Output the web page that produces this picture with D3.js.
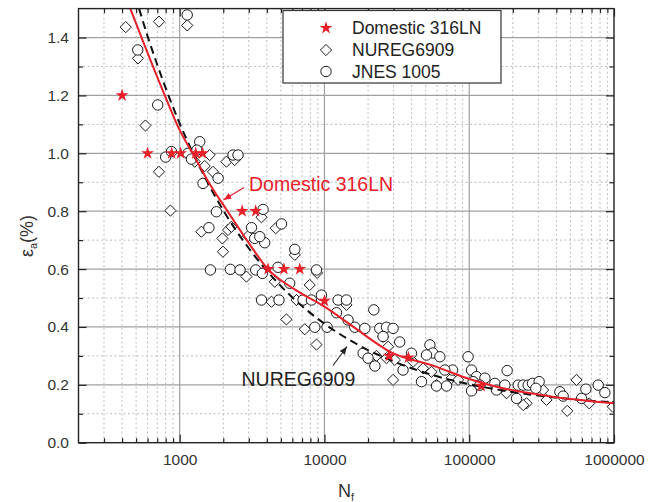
<!DOCTYPE html>
<html><head><meta charset="utf-8">
<script src="https://cdn.jsdelivr.net/npm/d3@7"></script>
<style>body{margin:0;background:#fff}svg{display:block}</style>
</head><body>
<svg id="chart" width="659" height="502"></svg>
<script>
// ---------- data ----------
const xTickValues = [1000, 10000, 100000, 1000000];
const xTickLabels = ["1000", "10000", "100000", "1000000"];
const yTickValues = [0, 0.2, 0.4, 0.6, 0.8, 1.0, 1.2, 1.4];
const yTickLabels = ["0.0", "0.2", "0.4", "0.6", "0.8", "1.0", "1.2", "1.4"];
const seriesNames = ["Domestic 316LN", "NUREG6909", "JNES 1005"];

// Domestic 316LN (stars)
const domesticN = [400, 600, 880, 1015, 1290, 1440, 2700, 3350, 4080, 5250, 6750, 10000, 28000, 38000, 121000];
const domesticE = [1.2, 1.0, 1.0, 1.0, 1.0, 1.0, 0.8, 0.8, 0.6, 0.6, 0.6, 0.49, 0.30, 0.294, 0.196];

// NUREG6909 (diamonds)
const nuregN = [424, 719, 1127, 515, 580, 719, 863, 1270, 1611, 1489, 1698, 2102, 2399, 1412, 1972, 2157, 2276, 2965,
  1991, 3673, 4605, 6237, 4540, 7906, 2890, 8892, 6412, 4305, 5458, 7311, 8810, 14190, 25410, 22860, 26810, 29790,
  27540, 30630, 40950, 48000, 54830, 59400, 75500, 83800, 181100, 249000, 342000, 475000, 551000, 674000, 982000,
  236000, 324000];
const nuregE = [1.436, 1.455, 1.442, 1.328, 1.096, 0.936, 0.802, 0.971, 0.994, 0.956, 0.936, 0.971, 0.977, 0.729, 0.706,
  0.735, 0.746, 0.714, 0.660, 0.779, 0.741, 0.649, 0.556, 0.545, 0.574, 0.587, 0.493, 0.487, 0.426, 0.392, 0.339,
  0.476, 0.366, 0.300, 0.292, 0.217, 0.332, 0.286, 0.280, 0.257, 0.245, 0.199, 0.223, 0.217, 0.171, 0.136, 0.148,
  0.110, 0.217, 0.136, 0.124, 0.130, 0.182];

// JNES 1005 (circles)
const jnesN = [1127, 513, 705, 800, 877, 1375, 1141, 1205, 1313, 1449, 1842, 2334, 2529, 1794, 1592, 3134, 3296, 3864,
  3573, 3767, 5050, 6237, 1630, 2240, 2610, 3350, 3726, 4774, 8810, 5754, 3673, 4853, 7112, 8125, 9529, 12420, 14190,
  12110, 21930, 8575, 10420, 14560, 16200, 19000, 24100, 26800, 29800, 25400, 33100, 18500, 20000, 22300, 34900,
  39900, 53500, 56000, 50700, 46800, 59400, 69700, 76700, 98200, 103700, 112300, 128300, 106400, 103700, 118300,
  150300, 154400, 182800, 176200, 218000, 236000, 255500, 273600, 304000, 288500, 212300, 422800, 445600, 597000,
  639400, 778000, 865000, 62700, 67800];
const jnesE = [1.478, 1.357, 1.167, 0.987, 1.006, 1.040, 1.0, 0.980, 1.011, 0.896, 0.914, 0.994, 0.994, 0.798, 0.743,
  0.743, 0.706, 0.691, 0.712, 0.806, 0.756, 0.668, 0.597, 0.599, 0.597, 0.597, 0.585, 0.606, 0.597, 0.551, 0.493,
  0.493, 0.493, 0.493, 0.510, 0.493, 0.493, 0.449, 0.459, 0.399, 0.399, 0.424, 0.399, 0.395, 0.395, 0.399, 0.395,
  0.367, 0.348, 0.309, 0.292, 0.265, 0.251, 0.309, 0.338, 0.310, 0.303, 0.211, 0.196, 0.196, 0.251, 0.297, 0.251,
  0.228, 0.223, 0.211, 0.179, 0.199, 0.205, 0.182, 0.249, 0.199, 0.199, 0.199, 0.199, 0.205, 0.211, 0.188, 0.153,
  0.176, 0.161, 0.153, 0.185, 0.199, 0.173, 0.297, 0.251];

// Domestic 316LN fit curve (red)
const fitDomN = [456, 560, 760, 1000, 1260, 1585, 2140, 2820, 4070, 6310, 10000, 15850, 28200, 58900, 100000, 162000, 400000, 1000000];
const fitDomE = [1.5, 1.385, 1.22, 1.08, 0.99, 0.9, 0.8, 0.71, 0.6, 0.528, 0.47, 0.40, 0.315, 0.263, 0.22, 0.191, 0.157, 0.136];

// NUREG6909 curve (black dashed)
const fitNurN = [524, 600, 700, 850, 1000, 1250, 1500, 2000, 3000, 5000, 7000, 10000, 15000, 20000, 30000, 50000, 100000, 200000, 500000, 1000000];
const fitNurE = [1.5, 1.405, 1.306, 1.191, 1.103, 0.995, 0.915, 0.803, 0.672, 0.541, 0.472, 0.411, 0.354, 0.320, 0.281, 0.241, 0.202, 0.175, 0.151, 0.139];

// ---------- layout ----------
const L = 78.5, R = 614, T = 8.6, B = 442.7;
const RED = "#e8202a";
const FONT = "'Liberation Sans', Arial, Helvetica, sans-serif";

const svg = d3.select("#chart");
const x = d3.scaleLog().domain([200, 1e6]).range([L, R]);
const y = d3.scaleLinear().domain([0, 1.5]).range([B, T]);

// minor tick values
const xMinor = [];
[100, 1000, 10000, 100000].forEach(d => { for (let k = 2; k <= 9; k++) { const v = k * d; if (v > 200 && v < 1e6) xMinor.push(v); } });
const yMinor = d3.range(0.1, 1.5, 0.2);

// grid
const grid = svg.append("g");
grid.selectAll(".gxm").data(xMinor).join("line")
  .attr("x1", d => x(d)).attr("x2", d => x(d)).attr("y1", T).attr("y2", B)
  .attr("stroke", "#bdbdbd").attr("stroke-width", 1).attr("stroke-dasharray", "2,2.5");
grid.selectAll(".gym").data(yMinor).join("line")
  .attr("y1", d => y(d)).attr("y2", d => y(d)).attr("x1", L).attr("x2", R)
  .attr("stroke", "#bdbdbd").attr("stroke-width", 1).attr("stroke-dasharray", "2,2.5");
grid.selectAll(".gx").data(xTickValues.filter(v => v < 1e6)).join("line")
  .attr("x1", d => x(d)).attr("x2", d => x(d)).attr("y1", T).attr("y2", B)
  .attr("stroke", "#a0a0a0").attr("stroke-width", 1.2);
grid.selectAll(".gy").data(yTickValues.filter(v => v > 0)).join("line")
  .attr("y1", d => y(d)).attr("y2", d => y(d)).attr("x1", L).attr("x2", R)
  .attr("stroke", "#a0a0a0").attr("stroke-width", 1.2);

// clip
svg.append("clipPath").attr("id", "clip").append("rect")
  .attr("x", L).attr("y", T).attr("width", R - L).attr("height", B - T);
const plot = svg.append("g").attr("clip-path", "url(#clip)");

// diamonds
const nuregData = nuregN.map((n, i) => ({ n, e: nuregE[i] }));
const dia = 5.6;
plot.selectAll(".dia").data(nuregData).join("path")
  .attr("d", d => { const cx = x(d.n), cy = y(d.e); return `M${cx},${cy - dia}L${cx + dia},${cy}L${cx},${cy + dia}L${cx - dia},${cy}Z`; })
  .attr("fill", "white").attr("stroke", "#1a1a1a").attr("stroke-width", 1);

// circles
const jnesData = jnesN.map((n, i) => ({ n, e: jnesE[i] }));
plot.selectAll(".cir").data(jnesData).join("circle")
  .attr("cx", d => x(d.n)).attr("cy", d => y(d.e)).attr("r", 5.2)
  .attr("fill", "white").attr("stroke", "#1a1a1a").attr("stroke-width", 1);

// curves
const lineGen = d3.line().x(d => x(d.n)).y(d => y(d.e)).curve(d3.curveMonotoneX);
const nurCurve = fitNurN.map((n, i) => ({ n, e: fitNurE[i] }));
const domCurve = fitDomN.map((n, i) => ({ n, e: fitDomE[i] }));
plot.append("path").datum(nurCurve).attr("d", lineGen)
  .attr("fill", "none").attr("stroke", "#111").attr("stroke-width", 2).attr("stroke-dasharray", "8,5");
plot.append("path").datum(domCurve).attr("d", lineGen)
  .attr("fill", "none").attr("stroke", RED).attr("stroke-width", 2);

// stars
const starSym = d3.symbol().type(d3.symbolStar).size(52);
const domData = domesticN.map((n, i) => ({ n, e: domesticE[i] }));
plot.selectAll(".star").data(domData).join("path")
  .attr("transform", d => `translate(${x(d.n)},${y(d.e)})`)
  .attr("d", starSym).attr("fill", RED).attr("stroke", "none");

// axes (ticks inward)
function styleAxis(g) {
  g.select(".domain").remove();
  g.selectAll(".tick line").attr("stroke", "#222").attr("stroke-width", 1.2);
  g.selectAll("text").attr("font-family", FONT).attr("font-size", 15.5).attr("fill", "#333");
}
const axB = svg.append("g").attr("transform", `translate(0,${B})`)
  .call(d3.axisBottom(x).tickValues(xTickValues).tickFormat((d, i) => xTickLabels[i]).tickSize(-8).tickPadding(11));
styleAxis(axB);
const axBm = svg.append("g").attr("transform", `translate(0,${B})`)
  .call(d3.axisBottom(x).tickValues(xMinor).tickFormat("").tickSize(-4.5));
styleAxis(axBm);
const axT = svg.append("g").attr("transform", `translate(0,${T})`)
  .call(d3.axisTop(x).tickValues(xTickValues).tickFormat("").tickSize(-8));
styleAxis(axT);
const axTm = svg.append("g").attr("transform", `translate(0,${T})`)
  .call(d3.axisTop(x).tickValues(xMinor).tickFormat("").tickSize(-4.5));
styleAxis(axTm);
const axL = svg.append("g").attr("transform", `translate(${L},0)`)
  .call(d3.axisLeft(y).tickValues(yTickValues).tickFormat((d, i) => yTickLabels[i]).tickSize(-8).tickPadding(9.5));
styleAxis(axL);
const axLm = svg.append("g").attr("transform", `translate(${L},0)`)
  .call(d3.axisLeft(y).tickValues(yMinor).tickFormat("").tickSize(-4.5));
styleAxis(axLm);
const axR = svg.append("g").attr("transform", `translate(${R},0)`)
  .call(d3.axisRight(y).tickValues(yTickValues).tickFormat("").tickSize(-8));
styleAxis(axR);
const axRm = svg.append("g").attr("transform", `translate(${R},0)`)
  .call(d3.axisRight(y).tickValues(yMinor).tickFormat("").tickSize(-4.5));
styleAxis(axRm);

// frame
svg.append("rect").attr("x", L).attr("y", T).attr("width", R - L).attr("height", B - T)
  .attr("fill", "none").attr("stroke", "#222").attr("stroke-width", 1.4);

// axis titles
const xt = svg.append("text").attr("x", 338).attr("y", 497)
  .attr("font-family", FONT).attr("font-size", 18).attr("fill", "#333");
xt.append("tspan").text("N");
xt.append("tspan").attr("font-size", 11).attr("dy", 4).text("f");

const yt = svg.append("text").attr("transform", "translate(33,236) rotate(-90)")
  .attr("text-anchor", "middle").attr("font-family", FONT).attr("font-size", 18).attr("fill", "#333");
yt.append("tspan").text("ε");
yt.append("tspan").attr("font-size", 11).attr("dy", 4).text("a");
yt.append("tspan").attr("dy", -4).text("(%)");

// legend
const lg = svg.append("g");
lg.append("rect").attr("x", 283).attr("y", 10.5).attr("width", 218).attr("height", 72.5)
  .attr("fill", "white").attr("stroke", "#333").attr("stroke-width", 1.2);
const legY = [28, 50, 71.5];
lg.append("path").attr("transform", `translate(326,${legY[0]})`).attr("d", starSym).attr("fill", RED);
lg.append("path").attr("d", `M326,${legY[1] - dia}L${326 + dia},${legY[1]}L326,${legY[1] + dia}L${326 - dia},${legY[1]}Z`)
  .attr("fill", "white").attr("stroke", "#1a1a1a").attr("stroke-width", 1);
lg.append("circle").attr("cx", 326).attr("cy", legY[2]).attr("r", 5.2)
  .attr("fill", "white").attr("stroke", "#1a1a1a").attr("stroke-width", 1);
lg.selectAll(".lt").data(seriesNames).join("text")
  .attr("x", 352).attr("y", (d, i) => legY[i] + 6.3)
  .attr("font-family", FONT).attr("font-size", 17.5).attr("fill", "#222").text(d => d);

// annotations
const defs = svg.append("defs");
function arrowMarker(id, color) {
  defs.append("marker").attr("id", id).attr("viewBox", "0 0 10 10").attr("refX", 10).attr("refY", 5)
    .attr("markerWidth", 8).attr("markerHeight", 8).attr("markerUnits", "userSpaceOnUse").attr("orient", "auto")
    .append("path").attr("d", "M0,1L10,5L0,9Z").attr("fill", color);
}
arrowMarker("arR", RED);
arrowMarker("arK", "#222");

svg.append("text").attr("x", 249).attr("y", 191).attr("font-family", FONT).attr("font-size", 19.5)
  .attr("fill", RED).text("Domestic 316LN");
svg.append("line").attr("x1", 244).attr("y1", 187.5).attr("x2", 223.5).attr("y2", 200)
  .attr("stroke", RED).attr("stroke-width", 1.1).attr("marker-end", "url(#arR)");

svg.append("text").attr("x", 241.5).attr("y", 386).attr("font-family", FONT).attr("font-size", 19.5)
  .attr("fill", "#222").text("NUREG6909");
svg.append("line").attr("x1", 333).attr("y1", 365.5).attr("x2", 347).attr("y2", 346.5)
  .attr("stroke", "#222").attr("stroke-width", 1.1).attr("marker-end", "url(#arK)");
</script>
</body></html>
